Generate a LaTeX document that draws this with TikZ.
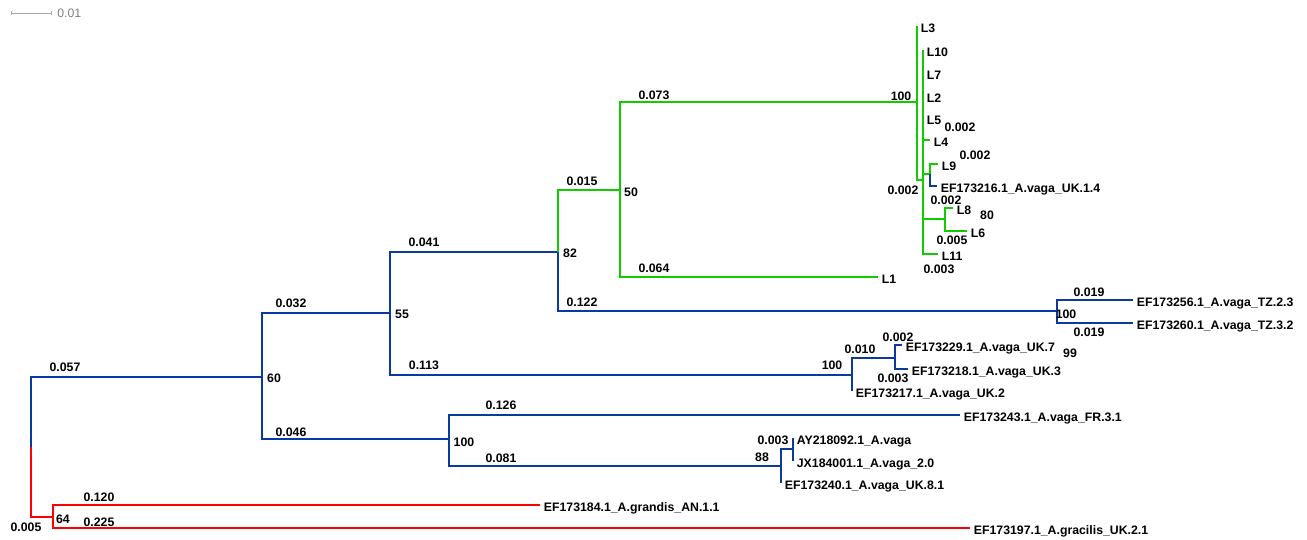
\documentclass[tikz,border=0pt]{standalone}
\usepackage{fontspec}
\setmainfont{Liberation Sans}
\usetikzlibrary{arrows.meta}
\definecolor{cgreen}{HTML}{11CC00}
\definecolor{cblue}{HTML}{0A3A9C}
\definecolor{cred}{HTML}{FF0000}
\tikzset{
  br/.style={line width=1.1pt},
  gbr/.style={br, cgreen},
  bbr/.style={br, cblue},
  rbr/.style={br, cred},
  leaf/.style={anchor=west, inner xsep=2pt, inner ysep=0pt, text height=7pt, text depth=0pt, font=\bfseries\fontsize{7}{8}\selectfont},
  lbl/.style={inner sep=0pt, text height=5pt, text depth=0pt, font=\bfseries\fontsize{7}{8}\selectfont},
  sbar/.style={gray!70, line width=0.5pt, {Bar[width=2.5pt]}-{Bar[width=2.5pt]}},
}

\begin{document}
\begin{tikzpicture}[x=0.02cm, y=-0.02cm]
    \useasboundingbox (0,0) rectangle (1307,540);
    % scale bar
    \coordinate (sbl) at (11,13);
    \coordinate (sbr) at (52,13);
    \draw[sbar] (sbl) -- (sbr);
    \node[inner sep=0pt, text height=5pt, text depth=0pt, gray, font=\fontsize{7}{8}\selectfont, anchor=west] (sblbl) at (57,13) {0.01};
    % internal nodes
    \coordinate (root) at (31,447);
    \coordinate (n60) at (262,377);
    \coordinate (n64) at (53,517);
    \coordinate (n55) at (390,313);
    \coordinate (n100c) at (449,439);
    \coordinate (n82) at (558,252);
    \coordinate (n100b) at (852,375);
    \coordinate (n50) at (620,190);
    \coordinate (ntz) at (1057,311);
    \coordinate (n100a) at (917,102);
    \coordinate (nsub) at (923,180);
    \coordinate (nl9) at (930,174);
    \coordinate (n80) at (945,219);
    \coordinate (n99) at (895,358);
    \coordinate (n88) at (781,466);
    \coordinate (nay) at (793,449);
    % leaves
    \node[leaf] (L3) at (917,26) {L3};
    \node[leaf] (L10) at (923,50) {L10};
    \node[leaf] (L7) at (923,73) {L7};
    \node[leaf] (L2) at (923,96) {L2};
    \node[leaf] (L5) at (923,118) {L5};
    \node[leaf] (L4) at (930,140) {L4};
    \node[leaf] (L9) at (938,164) {L9};
    \node[leaf] (uk14) at (937,186) {EF173216.1\_A.vaga\_UK.1.4};
    \node[leaf] (L8) at (953,208) {L8};
    \node[leaf] (L6) at (967,231) {L6};
    \node[leaf] (L11) at (938,254) {L11};
    \node[leaf] (L1) at (878,277) {L1};
    \node[leaf] (tz23) at (1133,300) {EF173256.1\_A.vaga\_TZ.2.3};
    \node[leaf] (tz32) at (1133,323) {EF173260.1\_A.vaga\_TZ.3.2};
    \node[leaf] (uk7) at (902,345) {EF173229.1\_A.vaga\_UK.7};
    \node[leaf] (uk3) at (908,369) {EF173218.1\_A.vaga\_UK.3};
    \node[leaf] (uk2) at (852,391) {EF173217.1\_A.vaga\_UK.2};
    \node[leaf] (fr31) at (960,415) {EF173243.1\_A.vaga\_FR.3.1};
    \node[leaf] (ay) at (793,438) {AY218092.1\_A.vaga};
    \node[leaf] (jx) at (793,461) {JX184001.1\_A.vaga\_2.0};
    \node[leaf] (uk81) at (781,483) {EF173240.1\_A.vaga\_UK.8.1};
    \node[leaf] (grandis) at (540,505) {EF173184.1\_A.grandis\_AN.1.1};
    \node[leaf] (gracilis) at (970,528) {EF173197.1\_A.gracilis\_UK.2.1};
    % branches
    \draw[bbr] (root) |- (n60);
    \draw[rbr] (root) |- (n64);
    \draw[rbr] (n64) |- (grandis.west);
    \draw[rbr] (n64) |- (gracilis.west);
    \draw[bbr] (n60) |- (n55);
    \draw[bbr] (n60) |- (n100c);
    \draw[bbr] (n55) |- (n82);
    \draw[bbr] (n55) |- (n100b);
    \draw[gbr] (n82) |- (n50);
    \draw[bbr] (n82) |- (ntz);
    \draw[bbr] (ntz) |- (tz23.west);
    \draw[bbr] (ntz) |- (tz32.west);
    \draw[gbr] (n50) |- (n100a);
    \draw[gbr] (n50) |- (L1.west);
    \draw[gbr] (n100a) |- (L3.west);
    \draw[gbr] (n100a) |- (nsub);
    \draw[gbr] (nsub) |- (L10.west);
    \draw[gbr] (nsub) |- (L7.west);
    \draw[gbr] (nsub) |- (L2.west);
    \draw[gbr] (nsub) |- (L5.west);
    \draw[gbr] (nsub) |- (L4.west);
    \draw[gbr] (nsub) |- (nl9);
    \draw[gbr] (nsub) |- (n80);
    \draw[gbr] (nsub) |- (L11.west);
    \draw[gbr] (nl9) |- (L9.west);
    \draw[bbr] (nl9) |- (uk14.west);
    \draw[gbr] (n80) |- (L8.west);
    \draw[gbr] (n80) |- (L6.west);
    \draw[bbr] (n100b) |- (n99);
    \draw[bbr] (n100b) |- (uk2.west);
    \draw[bbr] (n99) |- (uk7.west);
    \draw[bbr] (n99) |- (uk3.west);
    \draw[bbr] (n100c) |- (fr31.west);
    \draw[bbr] (n100c) |- (n88);
    \draw[bbr] (n88) |- (nay);
    \draw[bbr] (n88) |- (uk81.west);
    \draw[bbr] (nay) |- (ay.west);
    \draw[bbr] (nay) |- (jx.west);
    % branch lengths and support values
    \node[lbl] (bl057) at (65,367) {0.057};
    \node[lbl] (bs60) at (274,378) {60};
    \node[lbl] (bl032) at (291,303) {0.032};
    \node[lbl] (bl046) at (291,432) {0.046};
    \node[lbl] (bs55) at (402,314) {55};
    \node[lbl] (bl041) at (424,242) {0.041};
    \node[lbl] (bl113) at (424,365) {0.113};
    \node[lbl] (bs82) at (570,253) {82};
    \node[lbl] (bl015) at (582,181) {0.015};
    \node[lbl] (bl122) at (582,302) {0.122};
    \node[lbl] (bs50) at (631,192) {50};
    \node[lbl] (bl073) at (654,95) {0.073};
    \node[lbl] (bl064) at (654,268) {0.064};
    \node[lbl] (bs100a) at (901,96) {100};
    \node[lbl] (blL5) at (960,127) {0.002};
    \node[lbl] (blL9) at (975,155) {0.002};
    \node[lbl] (blsub) at (903,190) {0.002};
    \node[lbl] (bluk14) at (946,200) {0.002};
    \node[lbl] (bs80) at (987,215) {80};
    \node[lbl] (blL6) at (952,240) {0.005};
    \node[lbl] (blL11) at (939,269) {0.003};
    \node[lbl] (bltza) at (1089,292) {0.019};
    \node[lbl] (bs100tz) at (1066,314) {100};
    \node[lbl] (bltzb) at (1089,332) {0.019};
    \node[lbl] (bs100b) at (832,365) {100};
    \node[lbl] (bl010) at (860,349) {0.010};
    \node[lbl] (bluk7) at (898,337) {0.002};
    \node[lbl] (bs99) at (1070,353) {99};
    \node[lbl] (bluk3) at (893,378) {0.003};
    \node[lbl] (bl126) at (501,405) {0.126};
    \node[lbl] (bs100c) at (464,442) {100};
    \node[lbl] (bl081) at (501,458) {0.081};
    \node[lbl] (blay) at (773,440) {0.003};
    \node[lbl] (bs88) at (762,457) {88};
    \node[lbl] (bl120) at (99,497) {0.120};
    \node[lbl] (bs64) at (63,519) {64};
    \node[lbl] (bl225) at (99,522) {0.225};
    \node[lbl] (bl005) at (26,527) {0.005};
  \end{tikzpicture}
\end{document}
